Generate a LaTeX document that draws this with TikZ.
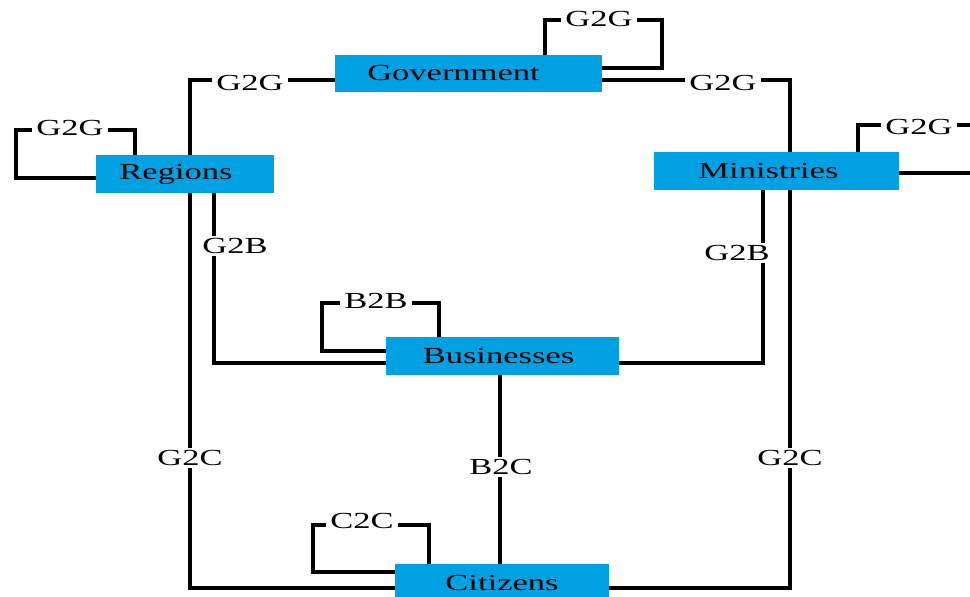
\documentclass[tikz,border=0pt]{standalone}
\usepackage{fontspec}
\setmainfont{Liberation Serif}
\definecolor{boxblue}{RGB}{0,161,227}
\newcommand\stretchtxt[1]{\scalebox{1.5}[1]{#1}}
\tikzset{
  ent/.style={rectangle, fill=boxblue, draw=none, inner sep=0pt, font=\fontsize{23}{27}\selectfont},
  lbl/.style={fill=white, inner xsep=4pt, inner ysep=2pt, font=\fontsize{23}{27}\selectfont},
  conn/.style={line width=3.8pt, line join=miter}
}
\begin{document}
\begin{tikzpicture}[x=1pt,y=-1pt]
\useasboundingbox (0,0) rectangle (970,597);
\clip (0,0) rectangle (970,597);
\fill[white] (0,0) rectangle (970,597);
% entities
\node[ent, minimum width=267pt, minimum height=37pt] (gov) at (468.5,73.5) {\raisebox{2pt}{\stretchtxt{Government}}\hspace*{30pt}};
\node[ent, minimum width=178pt, minimum height=38pt] (reg) at (185,174) {\raisebox{1pt}{\stretchtxt{Regions}}\hspace*{18pt}};
\node[ent, minimum width=245pt, minimum height=38pt] (min) at (776.5,171) {\stretchtxt{Ministries}\hspace*{16pt}};
\node[ent, minimum width=233pt, minimum height=38pt] (bus) at (502.5,356) {\stretchtxt{Businesses}\hspace*{8pt}};
\node[ent, minimum width=214pt, minimum height=38pt] (cit) at (502,583) {\stretchtxt{Citizens}};
% connectors
\draw[conn] (gov.north -| 545,0) -- (545,20) -- (662,20) -- (662,68) -- (gov.east |- 0,68);
\draw[conn] (gov.west |- 0,80) -- (190,80) -- (reg.north -| 190,0);
\draw[conn] (gov.east |- 0,80) -- (790,80) -- (min.north -| 790,0);
\draw[conn] (reg.west |- 0,178) -- (16,178) -- (16,130) -- (135,130) -- (reg.north -| 135,0);
\draw[conn] (min.north -| 858,0) -- (858,125) -- (980,125);
\draw[conn] (min.east |- 0,173) -- (980,173);
\draw[conn] (reg.south -| 214,0) -- (214,363) -- (bus.west |- 0,363);
\draw[conn] (reg.south -| 190,0) -- (190,588) -- (cit.west |- 0,588);
\draw[conn] (min.south -| 763,0) -- (763,363) -- (bus.east |- 0,363);
\draw[conn] (min.south -| 790,0) -- (790,588) -- (cit.east |- 0,588);
\draw[conn] (bus.west |- 0,351) -- (322,351) -- (322,303) -- (439,303) -- (bus.north -| 439,0);
\draw[conn] (bus.south -| 500,0) -- (cit.north -| 500,0);
\draw[conn] (cit.west |- 0,572) -- (313,572) -- (313,525) -- (429,525) -- (cit.north -| 429,0);
% labels
\node[lbl] (l1) at (599,19) {\stretchtxt{G2G}};
\node[lbl] (l2) at (250,83) {\stretchtxt{G2G}};
\node[lbl] (l3) at (723,83) {\stretchtxt{G2G}};
\node[lbl] (l4) at (70,128) {\stretchtxt{G2G}};
\node[lbl] (l5) at (919,127) {\stretchtxt{G2G}};
\node[lbl] (l6) at (235,246) {\stretchtxt{G2B}};
\node[lbl] (l7) at (190,458) {\stretchtxt{G2C}};
\node[lbl] (l8) at (737,253) {\stretchtxt{G2B}};
\node[lbl] (l9) at (790,458) {\stretchtxt{G2C}};
\node[lbl] (l10) at (376,301) {\stretchtxt{B2B}};
\node[lbl] (l11) at (501,467) {\stretchtxt{B2C}};
\node[lbl] (l12) at (362,521) {\stretchtxt{C2C}};
\end{tikzpicture}
\end{document}
